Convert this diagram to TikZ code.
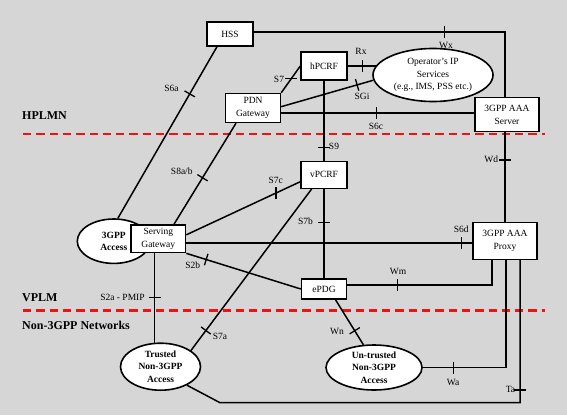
\documentclass[tikz,border=0pt]{standalone}
\usepackage{fontspec}
\setmainfont{Liberation Serif}
\usetikzlibrary{shapes.geometric,decorations.markings,backgrounds}
\definecolor{bgc}{RGB}{214,214,214}
\definecolor{redline}{RGB}{235,20,20}
\tikzset{
  box/.style={draw=black, line width=1.4pt, fill=white, inner sep=0pt, align=center,
    font=\fontsize{9.5}{12.5}\selectfont},
  oval/.style={ellipse, draw=black, line width=1.6pt, fill=white, inner sep=0pt, align=center,
    font=\fontsize{9.5}{12.5}\selectfont},
  boldoval/.style={oval, font=\fontsize{9.5}{12.5}\selectfont\bfseries},
  conn/.style={draw=black, line width=1.5pt},
  lbl/.style={inner sep=0pt, font=\fontsize{9.5}{11}\selectfont},
  zone/.style={inner sep=0pt, anchor=west, font=\fontsize{12}{14}\selectfont\bfseries},
  border/.style={draw=redline, line width=2.7pt, dash pattern=on 8.3pt off 5pt},
  tkp/.style={postaction={decorate,decoration={markings,
    mark=at position #1 with {\draw[line width=1.3pt] (0pt,-6pt) -- (0pt,6pt);}}}},
  tkh/.style={postaction={decorate,decoration={markings,
    mark=at position #1 with {\pgftransformresetnontranslations\draw[line width=1.3pt] (-6pt,0pt) -- (6pt,0pt);}}}},
  tkv/.style={postaction={decorate,decoration={markings,
    mark=at position #1 with {\pgftransformresetnontranslations\draw[line width=1.3pt] (0pt,-6pt) -- (0pt,6pt);}}}},
}
\begin{document}
\begin{tikzpicture}[x=1pt,y=-1pt]
% nodes
\node[box, minimum width=46pt, minimum height=24pt] (HSS) at (230,34) {HSS};
\node[box, minimum width=46pt, minimum height=28pt] (hPCRF) at (324,66) {hPCRF};
\node[box, minimum width=55pt, minimum height=29pt] (PDN) at (253,108) {PDN\\Gateway};
\node[oval, minimum width=120pt, minimum height=53pt] (ops) at (433,75) {Operator’s IP\\Services\\(e.g., IMS, PSS etc.)};
\node[box, minimum width=64pt, minimum height=34pt] (AAAS) at (507,114.7) {3GPP AAA\\Server};
\node[box, minimum width=46pt, minimum height=27pt] (vPCRF) at (324,174.7) {vPCRF};
\node[box, minimum width=45pt, minimum height=20pt] (ePDG) at (324,289) {ePDG};
\node[box, minimum width=64pt, minimum height=36.6pt] (AAAP) at (505,241) {3GPP AAA\\Proxy};
\node[boldoval, minimum width=73pt, minimum height=44.4pt] (acc3) at (113.8,241.2) {3GPP\\Access};
\node[box, minimum width=54.7pt, minimum height=27.7pt] (SGW) at (158.3,238.8) {Serving\\Gateway};
\node[boldoval, minimum width=80pt, minimum height=47pt] (trusted) at (160.5,366.7) {Trusted\\Non-3GPP\\Access};
\node[boldoval, minimum width=96pt, minimum height=45pt] (untrusted) at (374,367.5) {Un-trusted\\Non-3GPP\\Access};

% helper coordinates
\coordinate (c6c) at ([yshift=-5pt]PDN.east);
\coordinate (c6d) at ([yshift=-4.3pt]SGW.east);
\coordinate (c2a) at ([xshift=-3.8pt]SGW.south);
\coordinate (tacorner) at (220,402.7);
\coordinate (hplA) at (23,134);
\coordinate (hplB) at (545,134);
\coordinate (vplA) at (23,310.7);
\coordinate (vplB) at (545,310.7);

\begin{scope}[on background layer]
\fill[bgc] (0,0) rectangle (567,415);
\draw[border] (hplA) -- (hplB);
\draw[border] (vplA) -- (vplB);
% connectors
\draw[conn, tkp=191pt] ([yshift=2pt]HSS.east) -| ([xshift=-2pt]AAAS.north);
\draw[conn, tkp=15pt] (hPCRF.east) -- (hPCRF.east -| ops.center);
\draw[conn, tkp=79pt] ([yshift=1.3pt]PDN.east) -- (ops.185);
\draw[conn, tkh=0.53] (PDN.north east) -- (hPCRF.west);
\draw[conn, tkp=95pt] (c6c) -- (c6c -| AAAS.west);
\draw[conn, tkp=66.7pt] (hPCRF.south) -- (vPCRF.north);
\draw[conn, tkp=33.4pt] (vPCRF.south) -- (ePDG.north);
\draw[conn, tkp=27.6pt] ([xshift=-2pt]AAAS.south) -- (AAAP.north);
\draw[conn, tkp=275.3pt] (c6d) -- (c6d -| AAAP.west);
\draw[conn, tkp=50.2pt] ([yshift=4pt]ePDG.east) -| ([xshift=-13pt]AAAP.south);
\draw[conn, tkp=79.3pt] (untrusted.center) -| ([xshift=1pt]AAAP.south);
\draw[conn, tkh=-130pt] (trusted.-35) -- (tacorner) -| ([xshift=15pt]AAAP.south);
\draw[conn, tkp=36.5pt] ([xshift=11.5pt]ePDG.south) -- (untrusted.115);
\draw[conn, tkp=25pt] (trusted.28) -- ([xshift=-12.3pt]vPCRF.south);
\draw[conn, tkp=44pt] (c2a) -- (c2a |- trusted.center);
\draw[conn, tkp=20.8pt] (SGW.south east) -- (ePDG.west);
\draw[conn, tkv=99pt] ([yshift=4pt]SGW.east) -- ([yshift=-7pt]vPCRF.west);
\draw[conn, tkp=64pt] ([xshift=-17pt]PDN.south) -- ([xshift=15.7pt]SGW.north);
\draw[conn, tkp=54.5pt] ([xshift=-13pt]HSS.south) -- (acc3.80);
\end{scope}

% zone labels
\node[zone] (zH) at (22,116) {HPLMN};
\node[zone] (zV) at (22,297.5) {VPLM};
\node[zone] (zN) at (22,325) {Non-3GPP Networks};

% interface labels
\node[lbl] (lWx) at (446,45.5) {Wx};
\node[lbl] (lRx) at (361,51.5) {Rx};
\node[lbl] (lSGi) at (362,96) {SGi};
\node[lbl] (lS7) at (279,79) {S7};
\node[lbl] (lS6c) at (376,126) {S6c};
\node[lbl] (lS9) at (334,146.5) {S9};
\node[lbl] (lS6a) at (171.5,88.3) {S6a};
\node[lbl] (lS8) at (181.8,171.2) {S8a/b};
\node[lbl] (lS7c) at (275.8,180.7) {S7c};
\node[lbl] (lS2b) at (192.8,265) {S2b};
\node[lbl] (lS7b) at (305.5,221.5) {S7b};
\node[lbl] (lWd) at (491.3,159.2) {Wd};
\node[lbl] (lS6d) at (461.2,229.7) {S6d};
\node[lbl] (lWm) at (398,271.5) {Wm};
\node[lbl] (lS2a) at (122.5,297) {S2a - PMIP};
\node[lbl] (lS7a) at (220,336.3) {S7a};
\node[lbl] (lWn) at (337,331.7) {Wn};
\node[lbl] (lWa) at (453,382.3) {Wa};
\node[lbl] (lTa) at (510.5,389.2) {Ta};
\end{tikzpicture}
\end{document}
